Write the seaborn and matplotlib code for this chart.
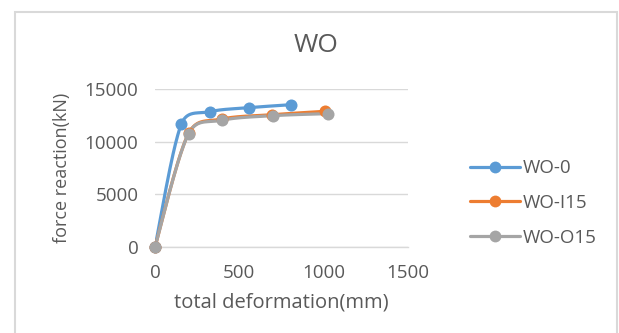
import numpy as np
import pandas as pd
import matplotlib
matplotlib.use("Agg")
import matplotlib.pyplot as plt
from matplotlib.lines import Line2D
import seaborn as sns

# ---- data ----
series_names = ["WO-0", "WO-I15", "WO-O15"]
wo0_x = [0, 157, 328, 560, 806]
wo0_y = [0, 11700, 12850, 13230, 13510]
woi15_x = [0, 199, 398, 696, 1005]
woi15_y = [0, 10780, 12150, 12560, 12880]
woo15_x = [0, 199, 395, 700, 1024]
woo15_y = [0, 10760, 12030, 12470, 12660]
x_ticks = [0, 500, 1000, 1500]
y_ticks = [0, 5000, 10000, 15000]
title = "WO"
x_label = "total deformation(mm)"
y_label = "force reaction(kN)"

colors = ["#5B9BD5", "#ED7D31", "#A5A5A5"]
text_color = "#595959"
grid_color = "#D9D9D9"

sns.set_theme(style="white")
plt.rcParams["font.family"] = ["Open Sans", "DejaVu Sans"]

fig = plt.figure(figsize=(6.19, 3.33), dpi=100)
fig.patch.set_facecolor("white")
ax = fig.add_axes([155 / 619, 1 - 247 / 333, (408 - 155) / 619, (247 - 89) / 333])

ax.set_xlim(0, 1500)
ax.set_ylim(0, 15000)


def smooth(xs, ys, n=40):
    """Excel-style smoothed line (limited Bezier) computed in display space."""
    pts = ax.transData.transform(np.column_stack([xs, ys]))
    out = [pts[0]]
    m = len(pts)
    f = 1.0 / 6.0
    for i in range(m - 1):
        p0 = pts[i - 1] if i > 0 else pts[i]
        p1 = pts[i]
        p2 = pts[i + 1]
        p3 = pts[i + 2] if i + 2 < m else pts[i + 1]
        d12 = np.linalg.norm(p2 - p1)
        d02 = np.linalg.norm(p2 - p0)
        d13 = np.linalg.norm(p3 - p1)
        f1 = min(f, 0.5 * d12 / d02) if d02 > 0 else 0
        f2 = min(f, 0.5 * d12 / d13) if d13 > 0 else 0
        c1 = p1 + (p2 - p0) * f1
        c2 = p2 - (p3 - p1) * f2
        t = np.linspace(0, 1, n)[1:, None]
        seg = ((1 - t) ** 3) * p1 + 3 * ((1 - t) ** 2) * t * c1 + 3 * (1 - t) * t ** 2 * c2 + t ** 3 * p2
        out.extend(seg)
    out = np.array(out)
    data = ax.transData.inverted().transform(out)
    return data[:, 0], data[:, 1]


all_x = [wo0_x, woi15_x, woo15_x]
all_y = [wo0_y, woi15_y, woo15_y]

for name, xs, ys, c in zip(series_names, all_x, all_y, colors):
    sx, sy = smooth(xs, ys)
    df_line = pd.DataFrame({"x": sx, "y": sy})
    sns.lineplot(data=df_line, x="x", y="y", ax=ax, color=c, linewidth=2.3,
                 sort=False, estimator=None, zorder=3)
    df_pts = pd.DataFrame({"x": xs, "y": ys})
    sns.scatterplot(data=df_pts, x="x", y="y", ax=ax, color=c, s=75,
                    edgecolor=c, linewidth=0, zorder=4, clip_on=False)

ax.set_xlim(0, 1500)
ax.set_ylim(0, 15000)
ax.set_xticks(x_ticks)
ax.set_yticks(y_ticks)
ax.set_xticklabels([str(v) for v in x_ticks])
ax.set_yticklabels([str(v) for v in y_ticks])

for s in ["top", "right", "left"]:
    ax.spines[s].set_visible(False)
ax.spines["bottom"].set_color(grid_color)
ax.spines["bottom"].set_linewidth(1.0)
ax.yaxis.grid(True, color=grid_color, linewidth=1.0)
ax.xaxis.grid(False)
ax.set_axisbelow(True)
ax.tick_params(axis="both", length=0, labelsize=13.5, colors=text_color)
ax.tick_params(axis="y", pad=12)
ax.tick_params(axis="x", pad=12)

ax.set_xlabel(x_label, fontsize=14.5, color=text_color, labelpad=8)
ax.set_ylabel(y_label, fontsize=13, color=text_color, labelpad=10)

fig.text(316 / 619, 1 - 45 / 333, title, fontsize=19, color=text_color,
         ha="center", va="center")

handles = [Line2D([0], [0], color=c, linewidth=2.3, marker="o", markersize=8.5,
                  markeredgewidth=0) for c in colors]
leg = fig.legend(handles, series_names, loc="center left",
                 bbox_to_anchor=(462 / 619, 1 - 203 / 333), frameon=False,
                 fontsize=13.5, labelspacing=0.9, handlelength=2.7,
                 handletextpad=0.15, borderaxespad=0)
for t in leg.get_texts():
    t.set_color(text_color)

# outer chart border
fig.add_artist(plt.Rectangle((14.5 / 619, -0.05), (617 - 14.5) / 619, 1.05 - 12.5 / 333,
                             transform=fig.transFigure, fill=False,
                             edgecolor=grid_color, linewidth=1.5))

fig.savefig("out.png", dpi=100, facecolor="white")
